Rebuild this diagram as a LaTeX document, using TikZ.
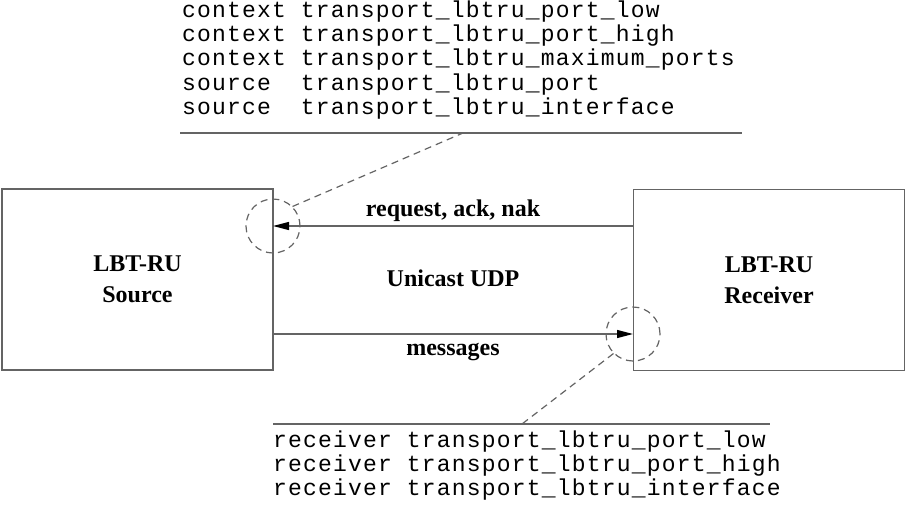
\documentclass[tikz,border=0pt]{standalone}
\usepackage{fontspec}
\setmainfont{Liberation Serif}
\newfontfamily\codefont[LetterSpace=5.2]{Liberation Mono}
\usetikzlibrary{arrows.meta}
\definecolor{linegray}{RGB}{100,100,100}
\begin{document}
\begin{tikzpicture}[x=1pt,y=-1pt,
  box/.style={draw=linegray, line width=1.3pt, minimum width=271pt, minimum height=181pt,
    inner sep=0pt, align=center, font=\bfseries\fontsize{24}{31}\selectfont},
  code/.style={anchor=base west, inner sep=0pt, font=\codefont\fontsize{23}{24}\selectfont},
  lbl/.style={anchor=base, inner sep=0pt, font=\bfseries\fontsize{24}{28}\selectfont},
  conn/.style={draw=linegray, line width=1.3pt},
  tip/.style={-{Triangle[length=16pt,width=8pt,black]}},
  ring/.style={circle, draw=linegray, line width=1.2pt, dash pattern=on 7pt off 5pt,
    minimum size=54pt, inner sep=0pt},
  leader/.style={draw=linegray, line width=1.2pt, dash pattern=on 7pt off 5pt},
  rule/.style={draw=linegray, line width=1.3pt}
]
\useasboundingbox (0,0) rectangle (908,509);

% boxes
\node[box] (src) at (137.5,279.5) {LBT-RU\\Source};
\node[box] (rcv) at (769,280) {LBT-RU\\Receiver};

% dashed rings
\node[ring] (c1) at (273,226) {};
\node[ring] (c2) at (633,334) {};

% arrows
\draw[conn,tip] (c1 -| rcv.west) -- (c1.center);
\draw[conn,tip] (c2 -| src.east) -- (c2.center);

% labels
\node[lbl] (lreq) at (453,216) {request, ack, nak};
\node[lbl] (ludp) at (453,286) {Unicast UDP};
\node[lbl] (lmsg) at (453,355) {messages};

% top code block
\node[code] (t1) at (182,17.5) {context transport\_lbtru\_port\_low};
\node[code] (t2) at (182,41.7) {context transport\_lbtru\_port\_high};
\node[code] (t3) at (182,65.9) {context transport\_lbtru\_maximum\_ports};
\node[code] (t4) at (182,90.1) {source\ \ transport\_lbtru\_port};
\node[code] (t5) at (182,114.3) {source\ \ transport\_lbtru\_interface};
\coordinate (tl) at (180,133);
\coordinate (tr) at (742,133);
\coordinate (tm) at (463,133);
\draw[rule] (tl) -- (tr);
\draw[leader] (c1.45) -- (tm);

% bottom code block
\coordinate (bl) at (273,424);
\coordinate (br) at (770,424);
\coordinate (bm) at (522,424);
\draw[rule] (bl) -- (br);
\draw[leader] (c2.225) -- (bm);
\node[code] (b1) at (273,447) {receiver transport\_lbtru\_port\_low};
\node[code] (b2) at (273,471) {receiver transport\_lbtru\_port\_high};
\node[code] (b3) at (273,495) {receiver transport\_lbtru\_interface};
\end{tikzpicture}
\end{document}
